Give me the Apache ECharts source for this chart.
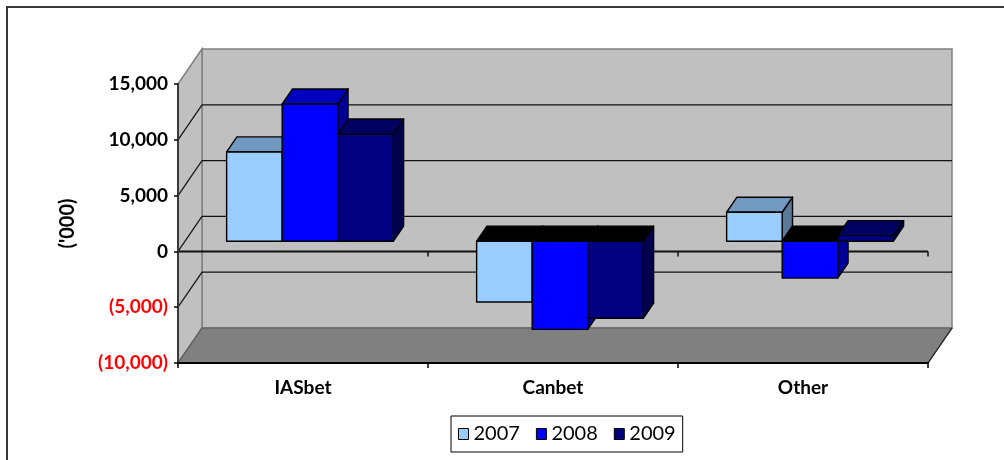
<!DOCTYPE html>
<html><head><meta charset="utf-8">
<script src="https://cdn.jsdelivr.net/npm/echarts@6/dist/echarts.min.js"></script>
<style>html,body{margin:0;padding:0;background:#fff}#c{width:1004px;height:460px}</style>
</head><body><div id="c"></div>
<script>
// ---- data ----
const categories = ['IASbet', 'Canbet', 'Other'];
const years = ['2007', '2008', '2009'];
const values2007 = [8000, -5450, 2600];
const values2008 = [12300, -7900, -3300];
const values2009 = [9600, -6900, 500];
const Y_MIN = -10000, Y_MAX = 15000, Y_STEP = 5000;
const yAxisTitle = "('000)";

// ---- style ----
const FONT = 'Lato';
const DX = 24, DY = -35;          // full depth projection offset (px)
const D0 = 0.29, D1 = 0.72;       // bar depth range as fraction of full depth
const palette = [
  {front: '#99CCFF', top: '#7299C0', side: '#5B7A99'},
  {front: '#0000FF', top: '#0000C0', side: '#000099'},
  {front: '#000080', top: '#000060', side: '#00004D'}
];

function fmtNum(v) { return Math.abs(v).toLocaleString('en-US'); }

function wallsRender(params, api) {
  const bw = api.size([1, 0])[0];
  const left = api.coord([0, Y_MAX])[0] - bw / 2;
  const right = api.coord([categories.length - 1, Y_MAX])[0] + bw / 2;
  const yTop = api.coord([0, Y_MAX])[1];
  const yBot = api.coord([0, Y_MIN])[1];
  const y0 = api.coord([0, 0])[1];
  const ch = [];
  ch.push({type: 'polygon', shape: {points: [[left + DX, yTop + DY], [right + DX, yTop + DY], [right + DX, yBot + DY], [left + DX, yBot + DY]]},
    style: {fill: '#C0C0C0', stroke: '#808080', lineWidth: 1.5}});
  ch.push({type: 'polygon', shape: {points: [[left, yTop], [left + DX, yTop + DY], [left + DX, yBot + DY], [left, yBot]]},
    style: {fill: '#C0C0C0', stroke: '#808080', lineWidth: 1.5}});
  ch.push({type: 'polygon', shape: {points: [[left, yBot], [right, yBot], [right + DX, yBot + DY], [left + DX, yBot + DY]]},
    style: {fill: '#808080', stroke: '#5a5a5a', lineWidth: 1.2}});
  ch.push({type: 'line', shape: {x1: right, y1: yBot, x2: right + DX, y2: yBot + DY}, style: {stroke: '#222', lineWidth: 1.2}});
  for (let v = Y_MIN + Y_STEP; v < Y_MAX; v += Y_STEP) {
    const y = api.coord([0, v])[1];
    ch.push({type: 'line', shape: {x1: left + DX, y1: y + DY, x2: right + DX, y2: y + DY}, style: {stroke: '#111', lineWidth: 1.2}});
    ch.push({type: 'line', shape: {x1: left, y1: y, x2: left + DX, y2: y + DY}, style: {stroke: '#111', lineWidth: 1.2}});
  }
  ch.push({type: 'line', shape: {x1: left, y1: y0, x2: right, y2: y0}, style: {stroke: '#111', lineWidth: 2}});
  for (let i = 1; i <= categories.length; i++) {
    const x = left + i * bw;
    ch.push({type: 'line', shape: {x1: x, y1: y0, x2: x, y2: y0 + 5}, style: {stroke: '#111', lineWidth: 1.5}});
  }
  return {type: 'group', children: ch};
}

function barRender(k) {
  const col = palette[k];
  return function (params, api) {
    const ci = api.value(0), v = api.value(1);
    const c = api.coord([ci, 0]);
    const bw = api.size([1, 0])[0];
    const w = bw * 2 / 9;
    const x0 = c[0] - bw / 3 + k * w + D0 * DX;
    const x1 = x0 + w;
    const yv = api.coord([ci, v])[1] + D0 * DY;
    const yz = c[1] + D0 * DY;
    const ddx = (D1 - D0) * DX, ddy = (D1 - D0) * DY;
    const yT = Math.min(yv, yz), yB = Math.max(yv, yz);
    const st = {stroke: '#000', lineWidth: 1.4, lineJoin: 'round'};
    return {type: 'group', children: [
      {type: 'polygon', shape: {points: [[x1, yT], [x1 + ddx, yT + ddy], [x1 + ddx, yB + ddy], [x1, yB]]},
        style: Object.assign({fill: col.side}, st)},
      {type: 'polygon', shape: {points: [[x0, yT], [x1, yT], [x1 + ddx, yT + ddy], [x0 + ddx, yT + ddy]]},
        style: Object.assign({fill: v >= 0 ? col.top : '#000'}, st)},
      {type: 'rect', shape: {x: x0, y: yT, width: w, height: yB - yT},
        style: Object.assign({fill: col.front}, st)}
    ]};
  };
}

const seriesValues = [values2007, values2008, values2009];
const barSeries = years.map((yr, k) => ({
  name: yr, type: 'custom', z: 3,
  itemStyle: {color: palette[k].front},
  renderItem: barRender(k),
  encode: {x: 0, y: 1},
  data: seriesValues[k].map((v, i) => [i, v])
}));

const chart = echarts.init(document.getElementById('c'), null, {renderer: 'canvas'});
chart.setOption({
  animation: false,
  backgroundColor: '#fff',
  graphic: [{type: 'rect', z: 0, shape: {x: 7, y: 7, width: 1100, height: 600},
    style: {fill: 'none', stroke: '#383838', lineWidth: 2}}],
  grid: {left: 178, top: 84, width: 750, height: 279, containLabel: false},
  legend: {
    left: 451, top: 416,
    padding: [8, 7, 8, 7],
    borderColor: '#000', borderWidth: 1,
    itemGap: 16, itemWidth: 10, itemHeight: 11,
    icon: 'rect',
    textStyle: {fontFamily: FONT, fontSize: 20, color: '#000'},
    data: years.map((yr, k) => ({name: yr, icon: 'rect',
      itemStyle: {color: palette[k].front, borderColor: '#000', borderWidth: 1}}))
  },
  xAxis: {
    type: 'category', data: categories, position: 'bottom', z: 5,
    axisLine: {onZero: false, lineStyle: {color: '#000', width: 2}},
    axisTick: {show: true, length: 5, lineStyle: {color: '#000', width: 1.5}},
    axisLabel: {fontFamily: FONT, fontWeight: 'bold', fontSize: 19, color: '#000', margin: 15},
    splitLine: {show: false}
  },
  yAxis: {
    type: 'value', min: Y_MIN, max: Y_MAX, interval: Y_STEP, z: 5,
    name: yAxisTitle, nameLocation: 'middle', nameRotate: 90, nameGap: 100,
    nameTextStyle: {fontFamily: FONT, fontWeight: 'bold', fontSize: 20, color: '#000'},
    axisLine: {show: true, lineStyle: {color: '#3a3a3a', width: 2}},
    axisTick: {show: true, length: 4, lineStyle: {color: '#000', width: 1.5}},
    axisLabel: {
      margin: 10, fontFamily: FONT, fontWeight: 'bold', fontSize: 19, color: '#000',
      formatter: v => v < 0 ? '{n|(' + fmtNum(v) + ')}' : fmtNum(v),
      rich: {n: {color: '#FF0000', fontFamily: FONT, fontWeight: 'bold', fontSize: 19}}
    },
    splitLine: {show: false}
  },
  series: [{
    type: 'custom', name: 'walls', z: 1, silent: true,
    renderItem: wallsRender, encode: {x: 0, y: 1}, data: [[0, 0]]
  }].concat(barSeries)
});
</script>
</body></html>
